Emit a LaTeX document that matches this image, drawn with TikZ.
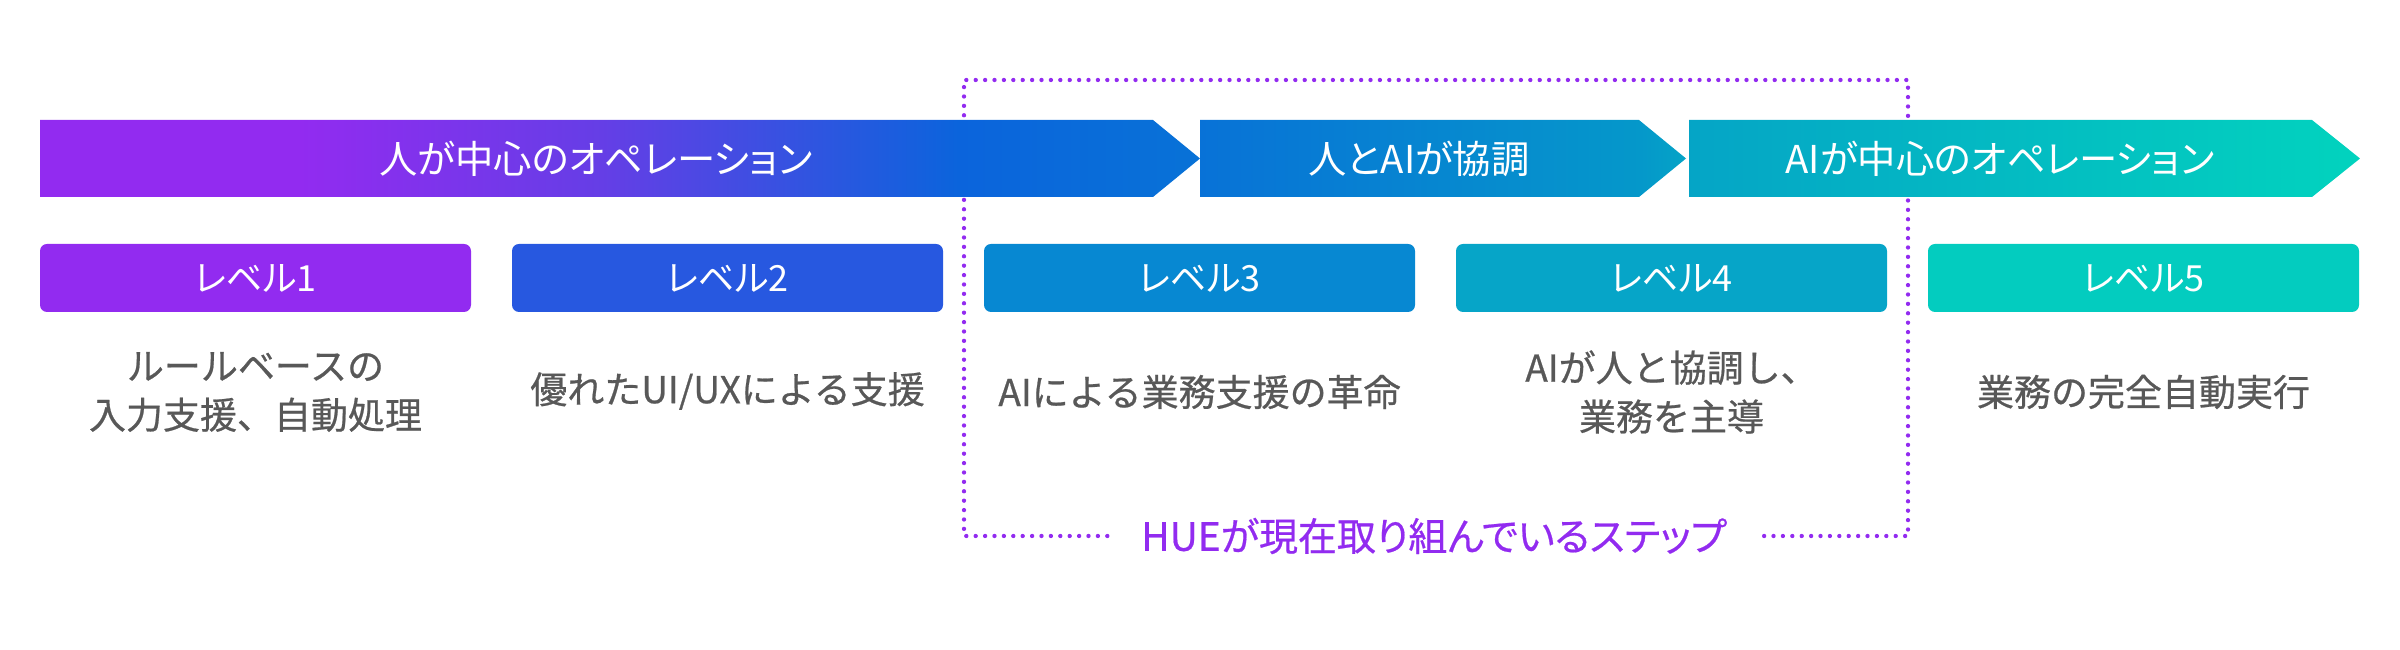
\documentclass[tikz,border=0pt]{standalone}
\usepackage{fontspec}
\newfontfamily\jp{Noto Sans CJK JP}[RawFeature=+palt]
\newfontfamily\jpd{Noto Sans CJK JP}[FakeBold=0.6]
\newfontfamily\jph{Noto Sans CJK JP}[RawFeature=+palt,FakeBold=0.5]
\definecolor{cpur}{HTML}{922BF0}
\definecolor{lv1}{HTML}{922BF0}
\definecolor{lv2}{HTML}{2758E0}
\definecolor{lv3}{HTML}{0788D2}
\definecolor{lv4}{HTML}{06A5C8}
\definecolor{lv5}{HTML}{03CCBF}
\definecolor{dgray}{HTML}{585858}
\definecolor{g0}{HTML}{922BF0}
\definecolor{g1}{HTML}{653EE6}
\definecolor{g2}{HTML}{0B64DC}
\definecolor{g3}{HTML}{0872D7}
\definecolor{g4}{HTML}{0598CA}
\definecolor{g5}{HTML}{05A5C6}
\definecolor{g6}{HTML}{02D3BE}
\pgfdeclarehorizontalshading{barshade}{100bp}{color(0bp)=(g0); color(25bp)=(g0); color(30.6bp)=(g0); color(37.1bp)=(g1); color(44.8bp)=(g2); color(50bp)=(g3); color(59.5bp)=(g4); color(60.6bp)=(g5); color(75bp)=(g6); color(100bp)=(g6)}
\begin{document}
\begin{tikzpicture}[x=0.3pt,y=-0.3pt,
  bartext/.style={text=white,font=\jp\fontsize{11.5}{14}\selectfont,inner sep=0pt},
  lvlbox/.style={text=white,font=\jp\fontsize{10.8}{13}\selectfont,minimum width=129.3pt,minimum height=20.4pt,rounded corners=2.1pt,inner sep=0pt},
  desc/.style={text=dgray,font=\jpd\fontsize{11.1}{14.7}\selectfont,align=center,inner sep=0pt},
  huetext/.style={text=cpur,font=\jph\fontsize{11.7}{14}\selectfont,fill=white,inner ysep=0pt,inner xsep=10pt},
  dotline/.style={draw=cpur,line width=1.3pt,line cap=round,dash pattern=on 0pt off 2.82pt}]
\useasboundingbox (0,0) rectangle (2400,650);
% dotted frame (behind the bar)
\coordinate (fbl) at (964,536);
\coordinate (ftl) at (964,80);
\coordinate (ftr) at (1908,80);
\coordinate (fbr) at (1908,536);
\node[huetext] (hue) at (1434,536) {HUEが現在取り組んでいるステップ};
\draw[dotline] (hue.west) -- (fbl) -- (ftl) -- (ftr) -- (fbr) -- (hue.east);
% gradient bar
\begin{scope}
\clip (40,120) -- (1153,120) -- (1200,158.5) -- (1153,197) -- (40,197) -- cycle
      (1200,120) -- (1639,120) -- (1686,158.5) -- (1639,197) -- (1200,197) -- cycle
      (1689,120) -- (2312,120) -- (2360,158.5) -- (2312,197) -- (1689,197) -- cycle;
\shade[shading=barshade] (40,120) rectangle (2360,197);
\end{scope}
\node[bartext] (b1) at (596,158.5) {人が中心のオペレーション};
\node[bartext] (b2) at (1419,158.5) {人とAIが協調};
\node[bartext] (b3) at (2000,158.5) {AIが中心のオペレーション};
% level boxes
\node[lvlbox,fill=lv1] (l1) at (255.5,278) {レベル1};
\node[lvlbox,fill=lv2] (l2) at (727.5,278) {レベル2};
\node[lvlbox,fill=lv3] (l3) at (1199.5,278) {レベル3};
\node[lvlbox,fill=lv4] (l4) at (1671.5,278) {レベル4};
\node[lvlbox,fill=lv5] (l5) at (2143.5,278) {レベル5};
% descriptions
\node[desc] (d1) at (255.5,392) {ルールベースの\\入力支援、自動処理};
\node[desc] (d2) at (727.5,391) {優れたUI/UXによる支援};
\node[desc] (d3) at (1199.5,392) {AIによる業務支援の革命};
\node[desc] (d4) at (1671.5,392) {AIが人と協調し、\\業務を主導};
\node[desc] (d5) at (2143.5,392) {業務の完全自動実行};
\end{tikzpicture}
\end{document}
